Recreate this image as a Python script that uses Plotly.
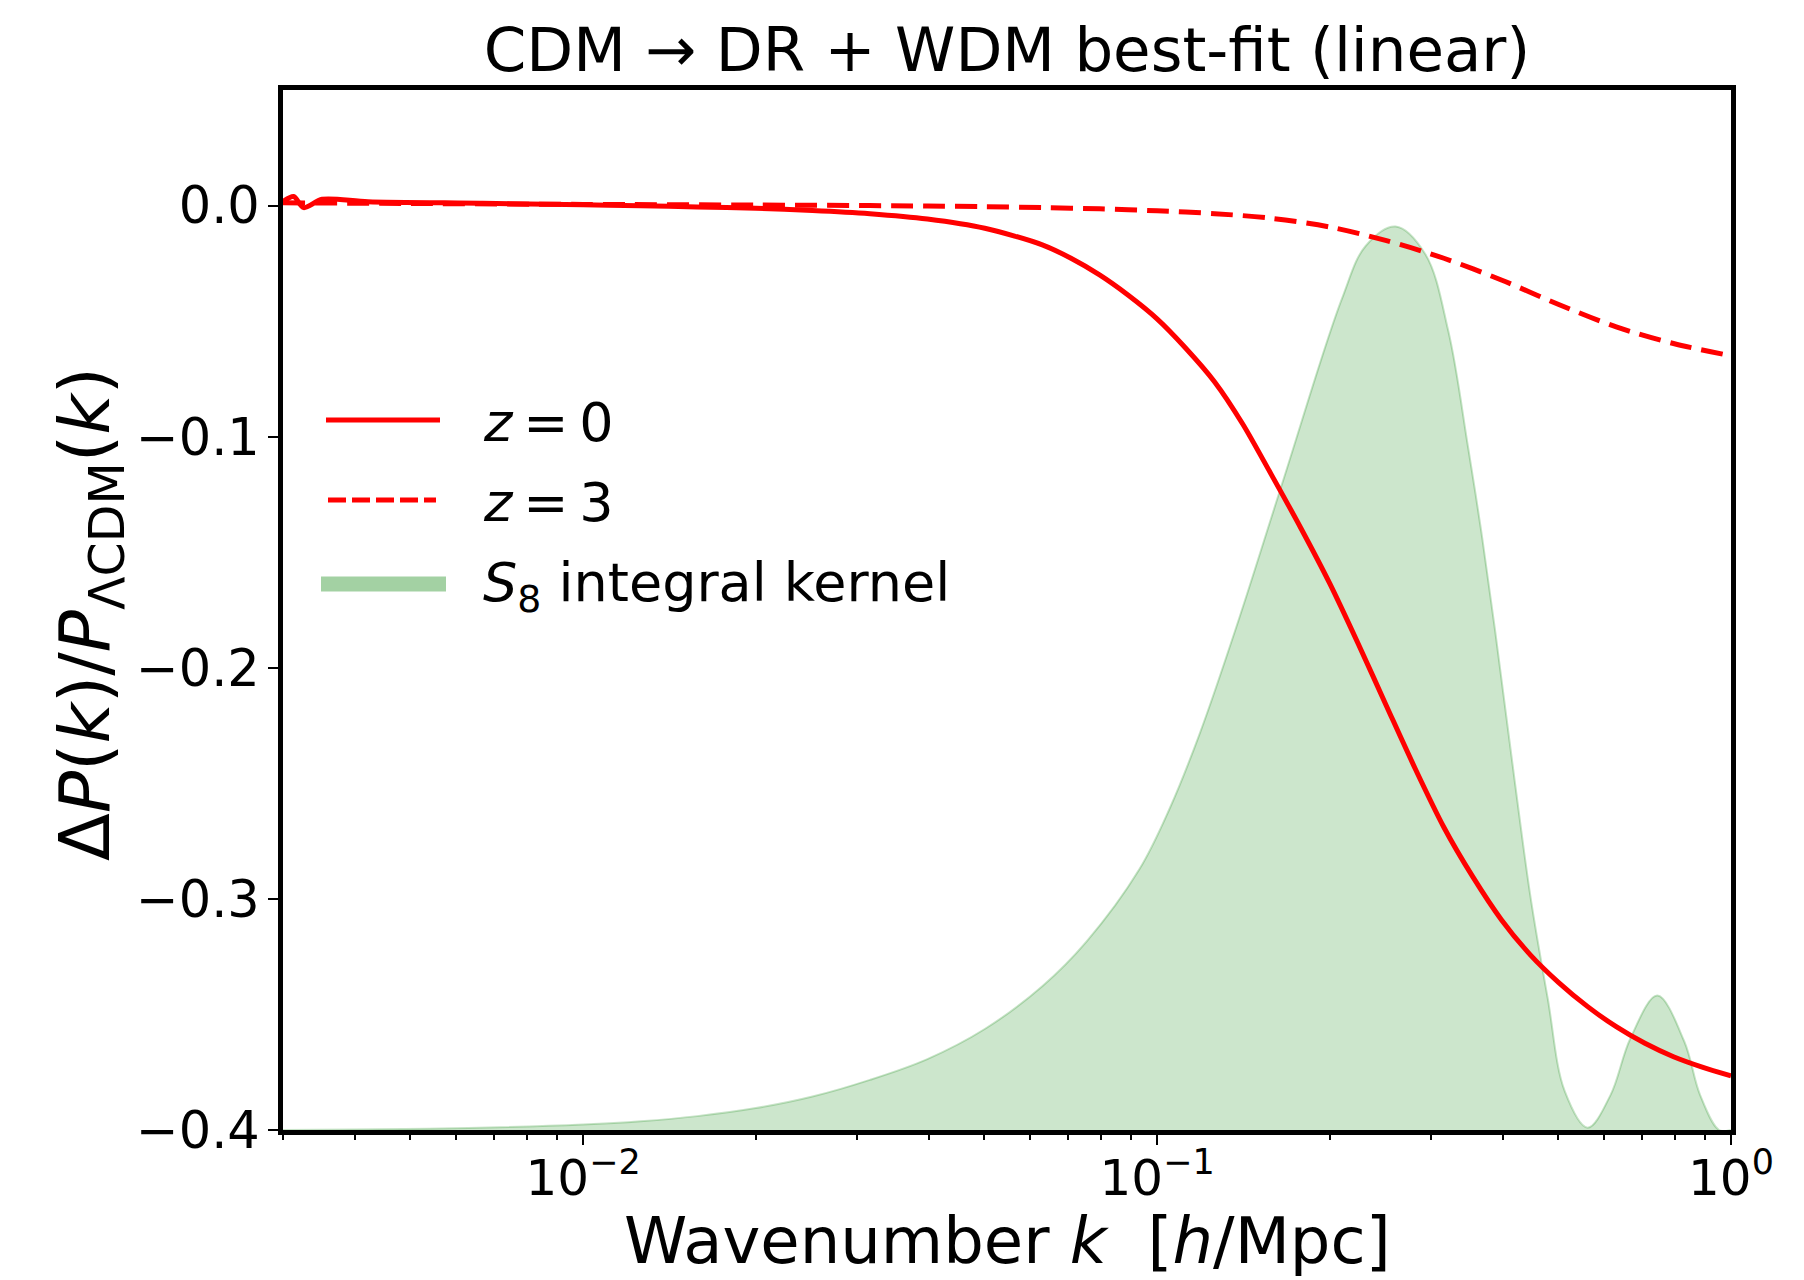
import plotly.graph_objects as go

# Fractional change of the linear matter power spectrum, z = 0
k_z0 = [0.00300, 0.00313, 0.00326, 0.00351, 0.00422, 0.00668, 0.0100, 0.0126,
        0.0158, 0.0200, 0.0251, 0.0316, 0.0398, 0.0501, 0.0631, 0.0708, 0.0794,
        0.0891, 0.100, 0.112, 0.126, 0.141, 0.158, 0.178, 0.200, 0.224, 0.251,
        0.282, 0.316, 0.355, 0.398, 0.447, 0.501, 0.562, 0.631, 0.708, 0.794,
        0.891, 1.0]
dp_z0 = [0.0017, 0.0039, -0.0009, 0.0027, 0.0017, 0.0010, 0.0003, -0.0001,
         -0.0006, -0.0012, -0.0021, -0.0035, -0.0058, -0.0098, -0.0170, -0.0228,
         -0.0300, -0.0388, -0.0490, -0.0615, -0.0763, -0.0945, -0.1162, -0.1395,
         -0.1636, -0.1895, -0.2165, -0.2439, -0.2690, -0.2905, -0.3090, -0.3242,
         -0.3362, -0.3465, -0.3553, -0.3625, -0.3683, -0.3728, -0.3766]

# Same quantity at z = 3
k_z3 = [0.0030, 0.0050, 0.0100, 0.0200, 0.0316, 0.0398, 0.0501, 0.0631, 0.0794,
        0.100, 0.126, 0.158, 0.200, 0.251, 0.316, 0.398, 0.501, 0.631, 0.794, 1.0]
dp_z3 = [0.0012, 0.0009, 0.0005, 0.0002, 0.0000, -0.0002, -0.0005, -0.0009,
         -0.0014, -0.0023, -0.0035, -0.0055, -0.0093, -0.0152, -0.0228, -0.0322,
         -0.0428, -0.0525, -0.0597, -0.0650]

# S8 integral kernel (arbitrary normalisation, drawn above the y = -0.4 floor)
k_kernel = [0.0030, 0.00398, 0.00631, 0.0100, 0.0126, 0.0158, 0.0200, 0.0251,
            0.0316, 0.0398, 0.0501, 0.0631, 0.0754, 0.0932, 0.1051, 0.1185,
            0.1373, 0.1651, 0.2099, 0.2309, 0.2603, 0.2934, 0.3217, 0.3483,
            0.3669, 0.3880, 0.4202, 0.4479, 0.4794, 0.5132, 0.5626, 0.6167,
            0.6681, 0.7440, 0.8288, 0.8835, 0.9533, 1.0]
kernel = [-0.4000, -0.3998, -0.3991, -0.3976, -0.3962, -0.3940, -0.3905, -0.3855,
          -0.3783, -0.3693, -0.3563, -0.3378, -0.3184, -0.2871, -0.2611, -0.2289,
          -0.1827, -0.1205, -0.0404, -0.0175, -0.0091, -0.0211, -0.0543, -0.1047,
          -0.1405, -0.1836, -0.2496, -0.3000, -0.3431, -0.3832, -0.3990, -0.3849,
          -0.3603, -0.3418, -0.3616, -0.3849, -0.4000, -0.4000]
kernel_floor = -0.4

legend_labels = ["<i>z</i>\u2009=\u20090", "<i>z</i>\u2009=\u20093",
                 "<i>S</i><sub>8</sub> integral kernel"]

y_ticks = [0.0, -0.1, -0.2, -0.3, -0.4]
y_ticktext = ["0.0", "\u22120.1", "\u22120.2", "\u22120.3", "\u22120.4"]
x_ticks = [0.01, 0.1, 1.0]
x_ticktext = ["10<sup>\u22122</sup>", "10<sup>\u22121</sup>", "10<sup>0</sup>"]
x_minor = [m * 10.0 ** e for e in (-3, -2, -1) for m in range(2, 10)]

RED = "#ff0000"
KERNEL_FILL = "rgba(0,128,0,0.2)"
KERNEL_EDGE = "rgba(0,128,0,0.22)"
KERNEL_KEY = "rgba(0,128,0,0.36)"
FONT = "DejaVu Sans"

fig = go.Figure()

# Kernel: filled band between the floor and the kernel curve
fig.add_trace(go.Scatter(x=k_kernel, y=[kernel_floor] * len(k_kernel),
                         mode="lines", line=dict(width=0, color=KERNEL_EDGE),
                         showlegend=False, hoverinfo="skip"))
fig.add_trace(go.Scatter(x=k_kernel, y=kernel, mode="lines", fill="tonexty",
                         fillcolor=KERNEL_FILL,
                         line=dict(color=KERNEL_EDGE, width=2, shape="spline", smoothing=1.0),
                         name="S8 integral kernel", showlegend=False))

fig.add_trace(go.Scatter(x=k_z3, y=dp_z3, mode="lines",
                         line=dict(color=RED, width=5, dash="22px,10px", shape="spline", smoothing=0.9),
                         name="z = 3", showlegend=False))
fig.add_trace(go.Scatter(x=k_z0, y=dp_z0, mode="lines",
                         line=dict(color=RED, width=5, shape="spline", smoothing=0.8),
                         name="z = 0", showlegend=False))

# Figure geometry (the thick frame is drawn just outside the plot area)
W, H = 1804, 1280
L, R, T, B = 283, 73, 90, 150
pw, ph = W - L - R, H - T - B


def px(xp):
    return (xp - L) / pw


def py(yp):
    return (H - B - yp) / ph


# Hand-drawn legend so the key samples get matplotlib-like lengths
rows = [420, 500, 584]
keys = [dict(color=RED, width=5, dash="solid", x0=326, x1=440),
        dict(color=RED, width=5, dash="18px,6px", x0=328, x1=436),
        dict(color=KERNEL_KEY, width=15, dash="solid", x0=321, x1=446)]
for yrow, key, label in zip(rows, keys, legend_labels):
    fig.add_shape(type="line", xref="paper", yref="paper",
                  x0=px(key["x0"]), x1=px(key["x1"]), y0=py(yrow), y1=py(yrow),
                  line=dict(color=key["color"], width=key["width"], dash=key["dash"]))
    fig.add_annotation(text=label, xref="paper", yref="paper", x=px(481), y=py(yrow + 2),
                       xanchor="left", yanchor="middle", showarrow=False,
                       font=dict(family=FONT, size=54, color="black"))

# Axis titles
fig.add_annotation(text="Wavenumber <i>k</i>  [<i>h</i>/Mpc]", xref="paper", yref="paper",
                   x=0.5, y=py(1241), xanchor="center", yanchor="middle", showarrow=False,
                   font=dict(family=FONT, size=64, color="black"))
fig.add_annotation(text="\u0394<i>P</i>(<i>k</i>)/<i>P</i><sub>\u039bCDM</sub>(<i>k</i>)",
                   xref="paper", yref="paper", x=px(90), y=py(614), textangle=-90,
                   xanchor="center", yanchor="middle", showarrow=False,
                   font=dict(family=FONT, size=70, color="black"))

fig.update_layout(
    width=W, height=H,
    margin=dict(l=L, r=R, t=T, b=B),
    paper_bgcolor="white", plot_bgcolor="white",
    font=dict(family=FONT, color="black"),
    title=dict(text="CDM \u2192 DR + WDM best-fit (linear)", x=(L + pw / 2) / W, xanchor="center",
               y=1 - 50 / H, yanchor="middle", font=dict(family=FONT, size=61, color="black")),
    showlegend=False,
)
fig.update_xaxes(type="log", range=[-2.5229, 0], showgrid=False, zeroline=False,
                 showline=True, linecolor="black", linewidth=5, mirror=True,
                 tickmode="array", tickvals=x_ticks, ticktext=x_ticktext,
                 ticks="outside", ticklen=10, tickwidth=2, tickcolor="black",
                 ticklabelstandoff=-10,
                 tickfont=dict(family=FONT, size=50, color="black"),
                 minor=dict(tickmode="array", tickvals=x_minor, ticks="outside",
                            ticklen=5, tickwidth=1.5, tickcolor="black", showgrid=False))
fig.update_yaxes(range=[-0.4, 0.05], showgrid=False, zeroline=False,
                 showline=True, linecolor="black", linewidth=5, mirror=True,
                 tickmode="array", tickvals=y_ticks, ticktext=y_ticktext,
                 ticks="outside", ticklen=10, tickwidth=2, tickcolor="black",
                 ticklabelstandoff=-2,
                 tickfont=dict(family=FONT, size=51, color="black"))

fig.write_html("out.html")
